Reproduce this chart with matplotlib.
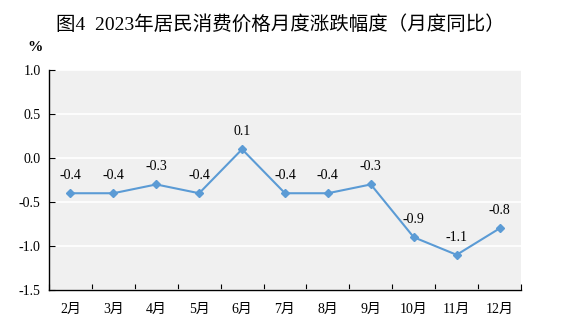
import matplotlib.pyplot as plt
import numpy as np

plt.rcParams['font.family'] = ['Liberation Serif', 'Noto Sans CJK SC']

months = ['2月', '3月', '4月', '5月', '6月', '7月', '8月', '9月', '10月', '11月', '12月']
values = [-0.4, -0.4, -0.3, -0.4, 0.1, -0.4, -0.4, -0.3, -0.9, -1.1, -0.8]

fig = plt.figure(figsize=(5.61, 3.29), dpi=100)
ax = fig.add_axes([0.0873, 0.1185, 0.8414, 0.6685])
ax.set_facecolor('#F0F0F0')

x = np.arange(len(months)) + 0.5
ax.plot(x, values, color='#5B9BD5', lw=1.5, marker='D', ms=4.5, zorder=3)
for xi, v in zip(x, values):
    ax.annotate(f'{v:.1f}', (xi, v), xytext=(0, 8), textcoords='offset points',
                ha='center', va='bottom', fontsize=10)

ax.set_xlim(0, len(months))
ax.set_ylim(-1.5, 1.0)
ax.set_yticks(np.arange(-1.5, 1.01, 0.5))
ax.set_yticklabels([f'{t:.1f}' for t in np.arange(-1.5, 1.01, 0.5)], fontsize=10)
ax.yaxis.grid(True, color='white', lw=1.2)
ax.set_axisbelow(True)

ax.set_xticks(np.arange(0, len(months) + 1))
ax.set_xticklabels([])
ax.set_xticks(x, minor=True)
ax.set_xticklabels(months, minor=True, fontsize=10)
ax.tick_params(axis='x', which='major', direction='in', length=4)
ax.tick_params(axis='x', which='minor', length=0, pad=9)
ax.tick_params(axis='y', direction='in', length=4, pad=6)

for s in ['top', 'right']:
    ax.spines[s].set_visible(False)
for s in ['left', 'bottom']:
    ax.spines[s].set_color('black')
    ax.spines[s].set_linewidth(1)

fig.text(0.5, 0.925, '图4  2023年居民消费价格月度涨跌幅度（月度同比）', ha='center', va='center',
         fontsize=14, fontweight='light')
fig.text(0.062, 0.855, '%', ha='center', va='center', fontsize=11, fontweight='bold')

fig.savefig('out.png', dpi=100)
